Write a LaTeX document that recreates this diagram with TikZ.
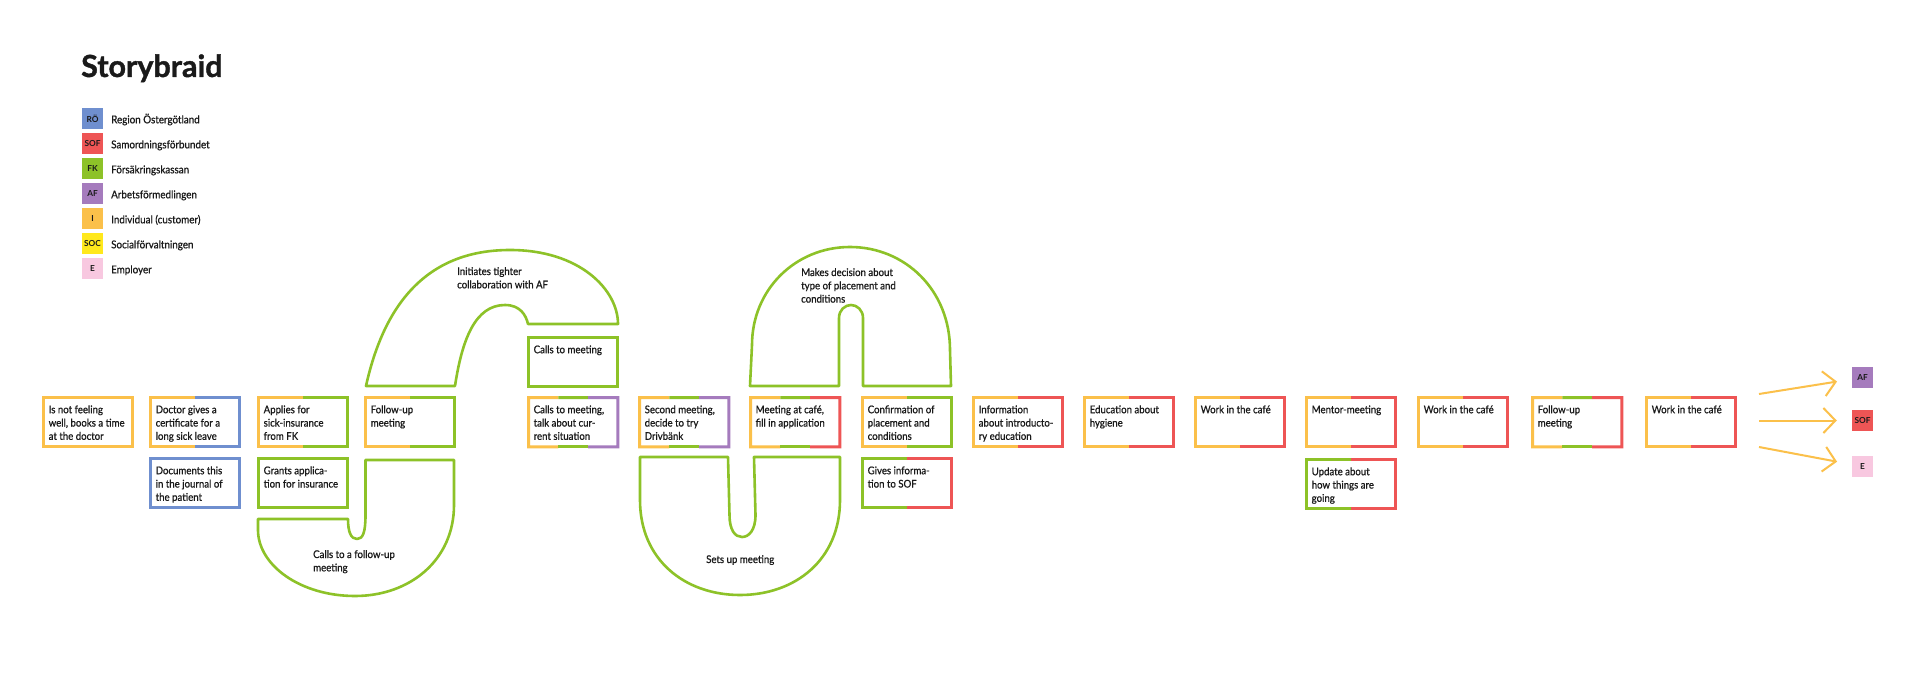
\documentclass[tikz,border=0pt]{standalone}
\usepackage{fontspec}
\setmainfont{Lato}
\newfontfamily\medf{Lato}[FakeBold=0.8, FakeStretch=0.91]
\newfontfamily\ttlf{Lato}[FakeBold=1.2]
\usetikzlibrary{calc,arrows.meta}
\definecolor{cRO}{HTML}{6F8FCF}
\definecolor{cSOF}{HTML}{EE5555}
\definecolor{cFK}{HTML}{8DC228}
\definecolor{cAF}{HTML}{A57BBD}
\definecolor{cI}{HTML}{FBC04A}
\definecolor{cSOC}{HTML}{FFE81C}
\definecolor{cE}{HTML}{F8C8E0}
\definecolor{ink}{HTML}{1A1A1A}
\newcommand\cardfnt{\medf\fontsize{10.6}{13.3}\selectfont}
\newcommand\legfnt{\medf\fontsize{10.8}{13}\selectfont}
\newcommand\cardtxt[1]{\parbox[t][36.6pt][t]{79pt}{\begin{tabular}[t]{@{}l@{}}#1\end{tabular}}}
\newcommand\braidtxt[1]{\begin{tabular}[t]{@{}l@{}}#1\end{tabular}}
\newcommand\brone[2]{\draw[brd,#2] (#1.north west) rectangle (#1.south east);}
\newcommand\brtwo[3]{%
  \draw[brd,#2] (#1.north) -- (#1.north west) -- (#1.south west) -- (#1.south);
  \draw[brd,#3] (#1.north) -- (#1.north east) -- (#1.south east) -- (#1.south);}
\newcommand\brthree[4]{%
  \draw[brd,#2] ($(#1.north west)!1/3!(#1.north east)$) -- (#1.north west) -- (#1.south west) -- ($(#1.south west)!1/3!(#1.south east)$);
  \draw[brd,#3] ($(#1.north west)!1/3!(#1.north east)$) -- ($(#1.north west)!2/3!(#1.north east)$);
  \draw[brd,#3] ($(#1.south west)!1/3!(#1.south east)$) -- ($(#1.south west)!2/3!(#1.south east)$);
  \draw[brd,#4] ($(#1.north west)!2/3!(#1.north east)$) -- (#1.north east) -- (#1.south east) -- ($(#1.south west)!2/3!(#1.south east)$);}
\tikzset{
  card/.style={anchor=north west, inner xsep=5pt, inner ysep=6.2pt, font=\cardfnt, text=ink},
  brd/.style={line width=3pt, line join=miter},
  braid/.style={draw=cFK, line width=2.6pt, line join=round},
  btxt/.style={anchor=base west, inner sep=0pt, font=\cardfnt, text=ink},
  legsq/.style={minimum size=21pt, inner sep=0pt, font=\fontsize{8.3}{9}\selectfont\bfseries, text=ink},
  leglab/.style={anchor=base west, inner sep=0pt, font=\legfnt, text=ink},
  arrw/.style={draw=cI, line width=2pt, -{Straight Barb[length=12pt,width=25pt]}, shorten >=15pt}
}
\begin{document}
\begin{tikzpicture}[x=1pt,y=-1pt]
\fill[white] (0,0) rectangle (1920,679);
% title and legend
\node[anchor=base west, inner sep=0pt, font=\ttlf\fontsize{30.5}{36}\selectfont\bfseries, text=ink] (title) at (81,77) {Storybraid};
\foreach \k/\code/\col/\lab in {0/RÖ/cRO/Region Östergötland,1/SOF/cSOF/Samordningsförbundet,2/FK/cFK/Försäkringskassan,3/AF/cAF/Arbetsförmedlingen,4/I/cI/Individual (customer),5/SOC/cSOC/Socialförvaltningen,6/E/cE/Employer}{
  \node[legsq, fill=\col] (lg\k) at (92.5,{118.5+25*\k}) {\code};
  \node[leglab] (ll\k) at (111,{123.3+25*\k}) {\lab};
}
% braids
\draw[braid] (258,519) -- (348,519) .. controls (348,532) and (351,539) .. (357,539) .. controls (363,539) and (365.5,532) .. (365.5,515) -- (365.5,460) -- (454,460) -- (454,505) .. controls (454,560) and (410,596) .. (355,596) .. controls (300,596) and (258,565) .. (258,530) -- cycle;
\node[btxt] (bt1) at (313,558) {\braidtxt{Calls to a follow-up\\meeting}};
\draw[braid] (366,386) -- (455,386) .. controls (462,340) and (475,305) .. (505,305) .. controls (520,305) and (526,315) .. (528,324) -- (618,324) .. controls (618,290) and (580,250) .. (510,250) .. controls (430,250) and (385,300) .. (366,386) -- cycle;
\node[btxt] (bt2) at (457,275) {\braidtxt{Initiates tighter\\collaboration with AF}};
\draw[braid] (640,457) -- (728,457) -- (729.5,515) .. controls (729.5,530) and (735,537) .. (742,537) .. controls (749,537) and (755.5,530) .. (755.5,515) -- (754,457) -- (840,457) -- (840,500) .. controls (840,560) and (795,595) .. (740,595) .. controls (685,595) and (640,560) .. (640,500) -- cycle;
\node[btxt] (bt3) at (706,563) {\braidtxt{Sets up meeting}};
\draw[braid] (750,386) -- (839,386) -- (839,318) .. controls (839,310) and (845,305) .. (851,305) .. controls (857,305) and (863,310) .. (863,318) -- (863,386) -- (951,386) -- (950,350) .. controls (950,290) and (905,247) .. (850,247) .. controls (795,247) and (752,290) .. (752,345) -- cycle;
\node[btxt] (bt4) at (801,276) {\braidtxt{Makes decision about\\type of placement and\\conditions}};
% cards
\node[card] (c1) at (43.5,397.5) {\cardtxt{Is not feeling\\well, books a time\\at the doctor}};
\node[card] (c2) at (150.5,397.5) {\cardtxt{Doctor gives a\\certificate for a\\long sick leave}};
\node[card] (c2b) at (150.5,458.5) {\cardtxt{Documents this\\in the journal of\\the patient}};
\node[card] (c3) at (258.5,397.5) {\cardtxt{Applies for\\sick-insurance\\from FK}};
\node[card] (c3b) at (258.5,458.5) {\cardtxt{Grants applica-\\tion for insurance}};
\node[card] (c4) at (365.5,397.5) {\cardtxt{Follow-up\\meeting}};
\node[card] (c5a) at (528.5,337.5) {\cardtxt{Calls to meeting}};
\node[card] (c5) at (528.5,397.5) {\cardtxt{Calls to meeting,\\talk about cur-\\rent situation}};
\node[card] (c6) at (639.5,397.5) {\cardtxt{Second meeting,\\decide to try\\Drivbänk}};
\node[card] (c7) at (750.5,397.5) {\cardtxt{Meeting at café,\\fill in application}};
\node[card] (c8) at (862.5,397.5) {\cardtxt{Confirmation of\\placement and\\conditions}};
\node[card] (c8b) at (862.5,458.5) {\cardtxt{Gives informa-\\tion to SOF}};
\node[card] (c9) at (973.5,397.5) {\cardtxt{Information\\about introducto-\\ry education}};
\node[card] (c10) at (1084.5,397.5) {\cardtxt{Education about\\hygiene}};
\node[card] (c11) at (1195.5,397.5) {\cardtxt{Work in the café}};
\node[card] (c12) at (1306.5,397.5) {\cardtxt{Mentor-meeting}};
\node[card] (c12b) at (1306.5,459.5) {\cardtxt{Update about\\how things are\\going}};
\node[card] (c13) at (1418.5,397.5) {\cardtxt{Work in the café}};
\node[card] (c14) at (1532.5,397.5) {\cardtxt{Follow-up\\meeting}};
\node[card] (c15) at (1646.5,397.5) {\cardtxt{Work in the café}};
% borders
\brone{c1}{cI}
\brtwo{c2}{cI}{cRO}
\brone{c2b}{cRO}
\brtwo{c3}{cI}{cFK}
\brone{c3b}{cFK}
\brtwo{c4}{cI}{cFK}
\brone{c5a}{cFK}
\brthree{c5}{cI}{cFK}{cAF}
\brthree{c6}{cI}{cFK}{cAF}
\brthree{c7}{cI}{cFK}{cSOF}
\brtwo{c8}{cI}{cFK}
\brtwo{c8b}{cFK}{cSOF}
\brtwo{c9}{cI}{cSOF}
\brtwo{c10}{cI}{cSOF}
\brtwo{c11}{cI}{cSOF}
\brtwo{c12}{cI}{cSOF}
\brtwo{c12b}{cFK}{cSOF}
\brtwo{c13}{cI}{cSOF}
\brthree{c14}{cI}{cFK}{cSOF}
\brtwo{c15}{cI}{cSOF}
% outcomes
\node[legsq, fill=cAF] (oaf) at (1862.5,377.5) {AF};
\node[legsq, fill=cSOF] (osof) at (1862.5,420.5) {SOF};
\node[legsq, fill=cE] (oe) at (1862.5,466.5) {E};
\coordinate (ar1) at (1759,394);
\coordinate (ar2) at (1759,420.5);
\coordinate (ar3) at (1759,447);
\draw[arrw] (ar1) -- (oaf);
\draw[arrw] (ar2) -- (osof);
\draw[arrw] (ar3) -- (oe);
\end{tikzpicture}
\end{document}
